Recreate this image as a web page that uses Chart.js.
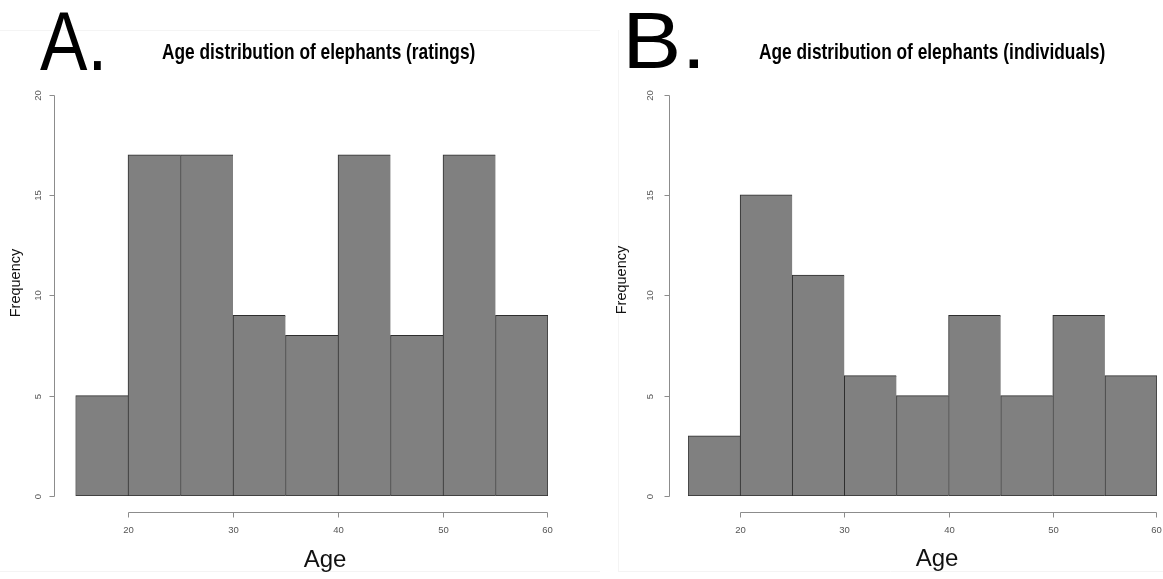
<!DOCTYPE html>
<html>
<head>
<meta charset="utf-8">
<script src="https://cdn.jsdelivr.net/npm/chart.js@4.4.1/dist/chart.umd.min.js"></script>
<style>
  html, body { margin: 0; padding: 0; background: #ffffff; }
  #wrap { position: relative; width: 1163px; height: 579px; overflow: hidden; }
  #wrap canvas { position: absolute; left: 0; top: 0; }
</style>
</head>
<body>
<div id="wrap">
  <canvas id="panelA" width="1163" height="579"></canvas>
  <canvas id="panelB" width="1163" height="579"></canvas>
</div>
<script>
// Histogram bins (age, years) and counts per bin
const binEdges = [15, 20, 25, 30, 35, 40, 45, 50, 55, 60];
const ratingsCounts = [5, 17, 17, 9, 8, 17, 8, 17, 9];
const individualsCounts = [3, 15, 11, 6, 5, 9, 5, 9, 6];

// Axis tick values
const xTicks = [20, 30, 40, 50, 60];
const yTicks = [0, 5, 10, 15, 20];

// Text
const titleRatings = 'Age distribution of elephants (ratings)';
const titleIndividuals = 'Age distribution of elephants (individuals)';
const xLabel = 'Age';
const yLabel = 'Frequency';

const AXIS_COLOR = '#8c8c8c';
const TICK_TEXT = '#555555';
const BAR_FILL = '#808080';
const BAR_EDGE = '#2e2e2e';

// Draw text so that its ink spans [inkLeft, inkRight] horizontally.
function fitText(ctx, text, inkLeft, inkRight, baseline, font, color) {
  ctx.save();
  ctx.font = font;
  ctx.fillStyle = color;
  ctx.textAlign = 'left';
  ctx.textBaseline = 'alphabetic';
  const m = ctx.measureText(text);
  const left = -m.actualBoundingBoxLeft;
  const w = m.actualBoundingBoxRight + m.actualBoundingBoxLeft;
  const sx = (inkRight - inkLeft) / w;
  ctx.translate(inkLeft, baseline);
  ctx.scale(sx, 1);
  ctx.fillText(text, -left, 0);
  ctx.restore();
}

function makePanel(canvasId, counts, title, lay) {
  const points = counts.map((c, i) => ({ x: (binEdges[i] + binEdges[i + 1]) / 2, y: c }));
  const last = counts.length - 1;

  const rAxes = {
    id: 'rAxes',
    beforeDraw(chart) {
      const ctx = chart.ctx;
      ctx.save();
      ctx.strokeStyle = '#f4f4f4';
      ctx.lineWidth = 1;
      lay.frame.forEach(([x1, y1, x2, y2]) => {
        ctx.beginPath(); ctx.moveTo(x1, y1); ctx.lineTo(x2, y2); ctx.stroke();
      });
      ctx.restore();
    },
    afterDraw(chart) {
      const ctx = chart.ctx;
      const xs = chart.scales.x, ys = chart.scales.y;
      ctx.save();
      ctx.strokeStyle = AXIS_COLOR;
      ctx.lineWidth = 1;

      // y axis (left)
      const ax = Math.round(lay.yAxisX) + 0.5;
      const yTop = Math.round(ys.getPixelForValue(yTicks[yTicks.length - 1])) + 0.5;
      const yBot = Math.round(ys.getPixelForValue(yTicks[0])) + 0.5;
      ctx.beginPath(); ctx.moveTo(ax, yTop); ctx.lineTo(ax, yBot); ctx.stroke();
      ctx.fillStyle = TICK_TEXT;
      ctx.font = '9.5px "Liberation Sans", Arial, sans-serif';
      ctx.textAlign = 'center';
      ctx.textBaseline = 'middle';
      yTicks.forEach(t => {
        const py = Math.round(ys.getPixelForValue(t)) + 0.5;
        ctx.beginPath(); ctx.moveTo(ax, py); ctx.lineTo(ax - 5, py); ctx.stroke();
        ctx.save();
        ctx.translate(lay.yTickLabelX, py);
        ctx.rotate(-Math.PI / 2);
        ctx.fillText(String(t), 0, 0);
        ctx.restore();
      });

      // x axis (bottom)
      const ay = Math.round(lay.xAxisY) + 0.5;
      const xL = Math.round(xs.getPixelForValue(xTicks[0])) + 0.5;
      const xR = Math.round(xs.getPixelForValue(xTicks[xTicks.length - 1])) - 0.5;
      ctx.beginPath(); ctx.moveTo(xL, ay); ctx.lineTo(xR, ay); ctx.stroke();
      xTicks.forEach((t, i) => {
        let px = Math.round(xs.getPixelForValue(t)) + 0.5;
        if (i === xTicks.length - 1) px -= 1;
        ctx.beginPath(); ctx.moveTo(px, ay); ctx.lineTo(px, ay + 5); ctx.stroke();
        ctx.fillText(String(t), px, lay.xTickLabelY);
      });

      // axis titles
      ctx.fillStyle = '#111111';
      ctx.font = '14.5px "Liberation Sans", Arial, sans-serif';
      ctx.save();
      ctx.translate(lay.yTitleX, lay.yTitleY);
      ctx.rotate(-Math.PI / 2);
      ctx.fillText(yLabel, 0, 0);
      ctx.restore();

      ctx.font = '24px "Liberation Sans", Arial, sans-serif';
      ctx.textBaseline = 'alphabetic';
      ctx.fillText(xLabel, lay.xTitleX, lay.xTitleBaseline);
      ctx.restore();

      // panel title and panel letter
      fitText(ctx, title, lay.titleLeft, lay.titleRight, lay.titleBaseline,
        'bold 22px "Liberation Sans", Arial, sans-serif', '#000000');
      fitText(ctx, lay.letter, lay.letterLeft, lay.letterRight, lay.letterBaseline,
        lay.letterFont, '#000000');
    }
  };

  return new Chart(document.getElementById(canvasId), {
    type: 'bar',
    data: {
      datasets: [{
        data: points,
        backgroundColor: BAR_FILL,
        borderColor: BAR_EDGE,
        borderWidth: c => ({ left: 1, top: 1, bottom: 1, right: c.dataIndex === last ? 1 : 0 }),
        borderSkipped: false,
        barPercentage: 1,
        categoryPercentage: 1
      }]
    },
    options: {
      responsive: false,
      animation: false,
      events: [],
      layout: { padding: lay.padding },
      plugins: { legend: { display: false }, tooltip: { enabled: false }, title: { display: false } },
      scales: {
        x: {
          type: 'linear', display: false, offset: false,
          min: binEdges[0], max: binEdges[binEdges.length - 1],
          ticks: { stepSize: 5 }
        },
        y: {
          type: 'linear', display: false,
          min: yTicks[0], max: yTicks[yTicks.length - 1]
        }
      }
    },
    plugins: [rAxes]
  });
}

makePanel('panelA', ratingsCounts, titleRatings, {
  padding: { left: 75.5, right: 1163 - 548, top: 94.5, bottom: 579 - 496 },
  yAxisX: 54, yTickLabelX: 38, yTitleX: 16, yTitleY: 283,
  xAxisY: 512, xTickLabelY: 530, xTitleX: 325, xTitleBaseline: 567,
  titleLeft: 162, titleRight: 475, titleBaseline: 58.5,
  letter: 'A.', letterLeft: 40, letterRight: 101, letterBaseline: 70,
  letterFont: '84px "Liberation Sans", Arial, sans-serif',
  frame: [[0, 30.5, 600, 30.5], [0, 571.5, 600, 571.5]]
});

makePanel('panelB', individualsCounts, titleIndividuals, {
  padding: { left: 688, right: 1163 - 1157, top: 94.5, bottom: 579 - 496 },
  yAxisX: 669, yTickLabelX: 650, yTitleX: 622, yTitleY: 280,
  xAxisY: 512, xTickLabelY: 530, xTitleX: 937, xTitleBaseline: 566,
  titleLeft: 759, titleRight: 1105, titleBaseline: 59,
  letter: 'B.', letterLeft: 629, letterRight: 698, letterBaseline: 68,
  letterFont: '80px "Liberation Sans", Arial, sans-serif',
  frame: [[618.5, 30, 618.5, 571], [618, 571.5, 1163, 571.5]]
});
</script>
</body>
</html>
